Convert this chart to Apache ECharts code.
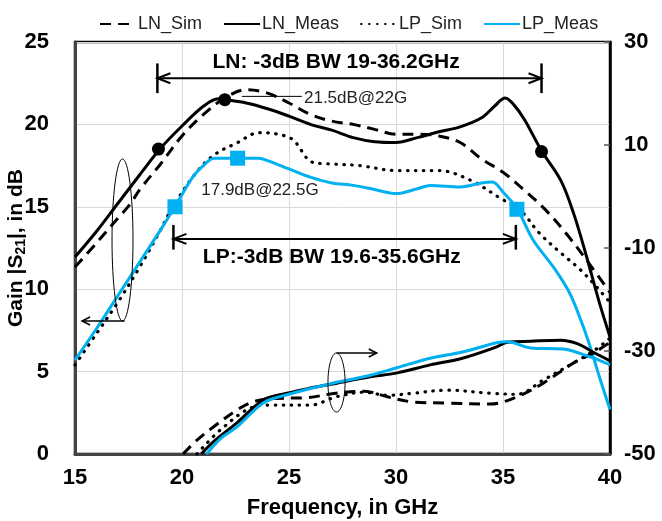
<!DOCTYPE html>
<html>
<head>
<meta charset="utf-8">
<script src="https://cdn.jsdelivr.net/npm/echarts@6/dist/echarts.min.js"></script>
<style>
  html, body { margin: 0; padding: 0; background: #fff; }
  #chart { width: 662px; height: 521px; }
</style>
</head>
<body>
<div id="chart"></div>
<script>
// gain curves, [GHz, dB] (left axis)
const lnSimGain = [[15, 11.35], [16, 12.8], [17, 14.3], [17.6, 15.2], [18, 16.0], [19, 17.6], [20, 19.3], [21, 20.6], [22, 21.6], [23, 22.1], [24, 21.9], [25, 21.3], [26, 20.6], [27, 20.2], [28, 20.0], [29, 19.7], [30, 19.4], [31, 19.4], [32, 19.3], [33, 18.9], [34, 17.9], [35, 17.1], [36, 16.0], [37, 14.8], [38, 13.3], [39, 11.6], [40, 9.8]];
const lnMeasGain = [[15, 11.95], [16, 13.5], [17, 15.2], [18, 16.9], [19, 18.55], [20, 19.9], [21, 21.1], [21.7, 21.55], [22, 21.5], [23, 21.3], [24, 20.95], [25, 20.5], [26, 20.0], [27, 19.65], [28, 19.2], [29, 18.95], [30, 18.9], [31, 19.2], [32, 19.55], [33, 19.85], [34, 20.4], [34.6, 21.1], [35.1, 21.6], [35.5, 21.2], [36, 20.3], [36.8, 18.4], [37.7, 16.6], [38.3, 14.6], [38.9, 12.0], [39.5, 9.2], [40, 7.1]];
const lpSimGain = [[15, 5.4], [16, 7.3], [17, 9.2], [18, 11.3], [19, 13.6], [19.4, 14.6], [20.5, 16.8], [21.45, 18.1], [22.6, 18.9], [23.6, 19.5], [24.5, 19.4], [25.2, 19.05], [26.1, 17.7], [27, 17.6], [28.3, 17.5], [30, 17.2], [32, 17.2], [33.5, 16.6], [34.9, 15.5], [35.8, 14.8], [36.7, 13.4], [37.7, 12.2], [38.6, 11.2], [39.4, 10.1], [40, 9.2]];
const lpMeasGain = [[15, 5.7], [16, 7.6], [17, 9.6], [18, 11.6], [19, 13.6], [19.67, 15.0], [20.5, 16.8], [21, 17.5], [21.5, 17.95], [22.6, 17.95], [23.6, 17.95], [24, 17.8], [25, 17.3], [26, 16.8], [27, 16.45], [28, 16.3], [29, 16.05], [30, 15.8], [31, 16.1], [31.6, 16.3], [33, 16.2], [34, 16.45], [34.5, 16.5], [35, 15.9], [35.65, 14.9], [36.4, 13.0], [37.35, 11.35], [38.1, 9.8], [38.7, 7.9], [39.1, 6.4], [39.5, 4.7], [40, 2.7]];

// lower curves, [GHz, dB] (right axis)
const lnSimS = [[20.05, -50], [20.7, -47.3], [21.45, -44.8], [22.55, -41.5], [23.3, -39.9], [24.3, -39.2], [25.7, -39.1], [27.2, -38.2], [28.5, -37.8], [29.6, -38.9], [30.8, -39.9], [32.4, -40.1], [34.4, -40.3], [35.65, -38.9], [36.9, -36.2], [38.3, -32.3], [39.3, -30.2], [40, -28.3]];
const lnMeasS = [[20.9, -50], [21.5, -47.5], [22.55, -44], [23.8, -39.5], [24.9, -38.2], [26, -37.2], [26.9, -36.5], [28.8, -35], [30, -34.3], [31.6, -32.7], [33.1, -31.4], [34.7, -29.2], [35.2, -28.3], [36.3, -28.1], [37.7, -27.9], [38.5, -28.6], [39.2, -30.2], [40, -31.9]];
const lpSimS = [[20.7, -50], [21.8, -45.3], [23.3, -40.9], [24.1, -40.5], [26, -40.5], [27.2, -38.9], [28.5, -38.0], [29.6, -38.6], [30.8, -38.2], [32.4, -37.6], [34.4, -38.2], [35.65, -38.4], [36.9, -35.6], [38.3, -32.3], [39.3, -29.8], [40, -27.5]];
const lpMeasS = [[21.15, -50], [21.8, -47], [22.55, -44.8], [23.8, -40.1], [24.9, -38.5], [26.9, -36.4], [28.8, -34.7], [30, -33.3], [31.6, -31.4], [33.1, -30.2], [34.7, -28.4], [35.2, -28.2], [36.3, -29.4], [37.8, -29.6], [39.1, -31.2], [40, -32.7]];

// -3dB / peak markers
const lnMarks = [[18.9, 18.5], [22, 21.5], [36.8, 18.35]];
const lpMarks = [[19.67, 15.0], [22.6, 17.95], [35.65, 14.85]];

const seriesNames = ['LN_Sim', 'LN_Meas', 'LP_Sim', 'LP_Meas'];
const xTicks = [15, 40, 5];
const leftTicks = [0, 25, 5];
const rightTicks = [-50, 30, 20];

// annotations, in gain-axis coordinates
const lnBand = { from: 18.85, to: 36.8, y: 22.8, top: 23.7, bottom: 21.9, label: 'LN: -3dB BW 19-36.2GHz', lx: 27.2, ly: 23.75 };
const lpBand = { from: 19.6, to: 35.6, y: 13.05, top: 13.9, bottom: 12.4, label: 'LP:-3dB BW 19.6-35.6GHz', lx: 27.0, ly: 11.95 };
const lnPeakNote = { text: '21.5dB@22G', x: 25.7, y: 21.6, lineFrom: 22.8, lineTo: 25.6, lineY: 21.7 };
const lpPeakNote = { text: '17.9dB@22.5G', x: 20.9, y: 16.0 };
const leftOval = { x0: 16.73, x1: 17.71, y0: 8.07, y1: 17.9, arrowTo: 15.33 };
const rightOval = { x0: 26.82, x1: 27.62, y0: 2.55, y1: 6.13, arrowTo: 29.1 };

const BLUE = '#00B0F0';
const FONT = 'Liberation Sans, Arial, sans-serif';

const chart = echarts.init(document.getElementById('chart'));

function lineSeries(name, data, axis, style) {
  return {
    name: name,
    type: 'line',
    yAxisIndex: axis,
    data: data,
    smooth: 0.35,
    showSymbol: false,
    symbol: 'none',
    lineStyle: style,
    itemStyle: { color: style.color, opacity: 0 },
    z: 3
  };
}

const styles = {
  LN_Sim: { color: '#000', width: 3, type: [11, 7] },
  LN_Meas: { color: '#000', width: 3 },
  LP_Sim: { color: '#000', width: 3.2, type: [0.5, 7.5], cap: 'round' },
  LP_Meas: { color: BLUE, width: 3 }
};

const option = {
  animation: false,
  backgroundColor: '#fff',
  textStyle: { fontFamily: FONT },
  legend: {
    data: seriesNames,
    top: 10,
    left: 94,
    itemWidth: 36,
    itemHeight: 10,
    itemGap: 21,
    itemStyle: { opacity: 0 },
    textStyle: { fontSize: 18, color: '#222', fontFamily: FONT, padding: [0, 0, 0, -3] }
  },
  grid: {
    left: 75, right: 52, top: 42, bottom: 67,
    outerBoundsMode: 'none',
    containLabel: false,
    show: true, borderColor: '#000', borderWidth: 2.5
  },
  xAxis: {
    type: 'value',
    min: xTicks[0], max: xTicks[1], interval: xTicks[2],
    name: 'Frequency, in GHz',
    nameLocation: 'middle',
    nameGap: 43,
    nameMoveOverlap: false,
    nameTextStyle: { fontSize: 22, fontWeight: 'bold', color: '#000', fontFamily: FONT },
    axisLine: { lineStyle: { color: '#444', width: 3 } },
    axisTick: { show: false },
    axisLabel: { fontSize: 22, fontWeight: 'bold', color: '#000', margin: 13, fontFamily: FONT },
    splitLine: { lineStyle: { color: '#d9d9d9', width: 1 } }
  },
  yAxis: [{
    type: 'value',
    min: leftTicks[0], max: leftTicks[1], interval: leftTicks[2],
    name: 'Gain |S{sub|21}|, in dB',
    nameLocation: 'middle',
    nameGap: 47,
    nameMoveOverlap: false,
    nameTextStyle: {
      fontSize: 21, fontWeight: 'bold', color: '#000', fontFamily: FONT,
      rich: { sub: { fontSize: 14, fontWeight: 'bold', fontFamily: FONT, color: '#000', verticalAlign: 'bottom', padding: [10, 0, 0, 0] } }
    },
    axisLine: { show: true, lineStyle: { color: '#444', width: 3 } },
    axisTick: { show: false },
    axisLabel: { fontSize: 22, fontWeight: 'bold', color: '#000', margin: 26, fontFamily: FONT },
    splitLine: { lineStyle: { color: '#d9d9d9', width: 1 } }
  }, {
    type: 'value',
    position: 'right',
    min: rightTicks[0], max: rightTicks[1], interval: rightTicks[2],
    axisLine: { show: true, lineStyle: { color: '#000', width: 2.5 } },
    axisTick: { show: true, inside: true, length: 6, lineStyle: { color: '#555', width: 1.5 } },
    axisLabel: { fontSize: 22, fontWeight: 'bold', color: '#000', margin: 14, fontFamily: FONT },
    splitLine: { show: false }
  }],
  series: [
    lineSeries('LN_Sim', lnSimGain, 0, styles.LN_Sim),
    lineSeries('LN_Meas', lnMeasGain, 0, styles.LN_Meas),
    lineSeries('LP_Sim', lpSimGain, 0, styles.LP_Sim),
    lineSeries('LP_Meas', lpMeasGain, 0, styles.LP_Meas),
    lineSeries('LN_Sim', lnSimS, 1, styles.LN_Sim),
    lineSeries('LN_Meas', lnMeasS, 1, styles.LN_Meas),
    lineSeries('LP_Sim', lpSimS, 1, styles.LP_Sim),
    lineSeries('LP_Meas', lpMeasS, 1, styles.LP_Meas),
    {
      name: 'LN marks', type: 'scatter', yAxisIndex: 0, data: lnMarks,
      symbol: 'circle', symbolSize: 13, itemStyle: { color: '#000', opacity: 1 }, z: 5
    },
    {
      name: 'LP marks', type: 'scatter', yAxisIndex: 0, data: lpMarks,
      symbol: 'rect', symbolSize: 15, itemStyle: { color: BLUE, opacity: 1 }, z: 5
    }
  ]
};

chart.setOption(option);

// annotations: arrows, ovals and notes placed through the gain axis scale
function px(x, y) {
  return chart.convertToPixel({ xAxisIndex: 0, yAxisIndex: 0 }, [x, y]);
}

function seg(a, b, w) {
  return { type: 'line', shape: { x1: a[0], y1: a[1], x2: b[0], y2: b[1] }, style: { stroke: '#000', lineWidth: w }, z: 10 };
}

function chevron(tip, dir, len, half, w) {
  return {
    type: 'polyline',
    shape: { points: [[tip[0] - dir * len, tip[1] - half], tip, [tip[0] - dir * len, tip[1] + half]] },
    style: { stroke: '#000', lineWidth: w, fill: null },
    z: 10
  };
}

function bandArrow(b) {
  const a = px(b.from, b.y), c = px(b.to, b.y);
  return [
    seg(a, c, 2),
    seg(px(b.from, b.top), px(b.from, b.bottom), 2.5),
    seg(px(b.to, b.top), px(b.to, b.bottom), 2.5),
    chevron(a, -1, 13, 5, 2),
    chevron(c, 1, 13, 5, 2),
    {
      type: 'text', z: 10,
      style: {
        text: b.label, x: px(b.lx, b.ly)[0], y: px(b.lx, b.ly)[1],
        fontSize: 21, fontWeight: 'bold', fontFamily: FONT, fill: '#000',
        align: 'center', verticalAlign: 'middle'
      }
    }
  ];
}

function oval(o) {
  const p0 = px(o.x0, o.y1), p1 = px(o.x1, o.y0);
  return {
    type: 'ellipse', z: 10,
    shape: { cx: (p0[0] + p1[0]) / 2, cy: (p0[1] + p1[1]) / 2, rx: (p1[0] - p0[0]) / 2, ry: (p1[1] - p0[1]) / 2 },
    style: { stroke: '#000', lineWidth: 1, fill: null }
  };
}

function note(n) {
  const p = px(n.x, n.y);
  return {
    type: 'text', z: 10,
    style: { text: n.text, x: p[0], y: p[1], fontSize: 17, fontFamily: FONT, fill: '#222', align: 'left', verticalAlign: 'middle' }
  };
}

const lMid = (leftOval.x0 + leftOval.x1) / 2 + 0.1;
const rMid = (rightOval.x0 + rightOval.x1) / 2;
const leftArrowStart = px(lMid, leftOval.y0), leftArrowEnd = px(leftOval.arrowTo, leftOval.y0);
const rightArrowStart = px(rMid, rightOval.y1), rightArrowEnd = px(rightOval.arrowTo, rightOval.y1);

const graphics = [].concat(
  bandArrow(lnBand),
  bandArrow(lpBand),
  [
    note(lnPeakNote),
    note(lpPeakNote),
    seg(px(lnPeakNote.lineFrom, lnPeakNote.lineY), px(lnPeakNote.lineTo, lnPeakNote.lineY), 1),
    oval(leftOval),
    oval(rightOval),
    seg(leftArrowStart, leftArrowEnd, 1.5),
    chevron(leftArrowEnd, -1, 8, 4, 1.5),
    seg(rightArrowStart, rightArrowEnd, 1.5),
    chevron(rightArrowEnd, 1, 8, 4, 1.5)
  ]
);

chart.setOption({ graphic: graphics });
</script>
</body>
</html>
